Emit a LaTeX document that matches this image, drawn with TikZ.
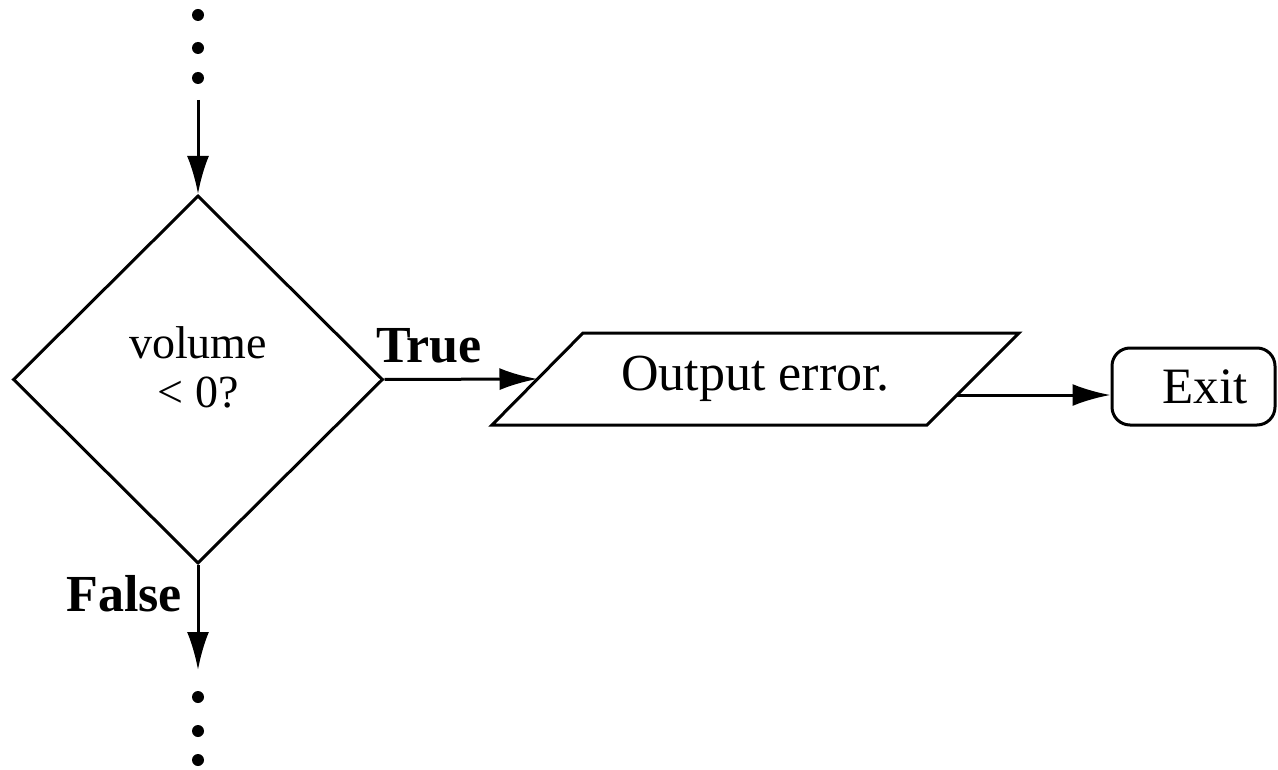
\documentclass[tikz,border=0pt]{standalone}
\usepackage{fontspec}
\setmainfont{Liberation Serif}
\usetikzlibrary{shapes.geometric,arrows.meta,calc}
\begin{document}
\begin{tikzpicture}[x=1pt,y=-1pt,
  every node/.style={inner sep=0pt},
  flowline/.style={line width=3pt,line join=miter},
  flowarrow/.style={flowline,-{Latex[length=38pt,width=22pt]}},
  decision/.style={draw,line width=3pt,shape=diamond,minimum width=370pt,minimum height=368pt},
  iotext/.style={font=\fontsize{52}{56}\selectfont},
  termbox/.style={draw,line width=3pt,rounded corners=18pt,minimum width=163pt,minimum height=77pt},
  bigtext/.style={font=\fontsize{51}{56}\selectfont},
  qtext/.style={align=center,font=\fontsize{46}{49}\selectfont},
  branch/.style={font=\bfseries\fontsize{52}{56}\selectfont},
  dot/.style={circle,fill,minimum size=12pt}
]
\useasboundingbox (0,0) rectangle (1278,770);

% continuation dots above and below the decision
\node[dot] (d1) at (198,15) {};
\node[dot] (d2) at (198,48) {};
\node[dot] (d3) at (198,78) {};
\node[dot] (d4) at (198,697) {};
\node[dot] (d5) at (198,731) {};
\node[dot] (d6) at (198,760) {};

% decision
\node[decision] (dec) at (198,379.5) {};
\node[qtext] (qt) at (198,367) {volume\\< 0?};

% output parallelogram
\coordinate (obl) at (492,425);
\coordinate (otl) at (583,333);
\coordinate (otr) at (1019,333);
\coordinate (obr) at (927,425);
\draw[flowline] (obl) -- (otl) -- (otr) -- (obr) -- cycle;
\node[iotext] (out) at (755.5,379) {Output error.};
\coordinate (oin) at ($(obl)!0.5!(otl)$);
\coordinate (oout) at ($(obr)!0.326!(otr)$);

% exit terminal
\node[termbox] (ex) at (1193.5,386.5) {};
\node[bigtext] (exl) at (1205,386.5) {Exit};

% branch labels
\node[branch] (tl) at (429,346) {True};
\node[branch] (fl) at (124,593.5) {False};

% connectors
\coordinate (topend) at (198,100);
\coordinate (botend) at (198,670);
\draw[flowarrow] (topend) -- (dec.north);
\draw[flowarrow] (dec.east) -- (oin);
\draw[flowarrow] (oout) -- (oout -| ex.west);
\draw[flowarrow] (dec.south) -- (botend);
\end{tikzpicture}
\end{document}
